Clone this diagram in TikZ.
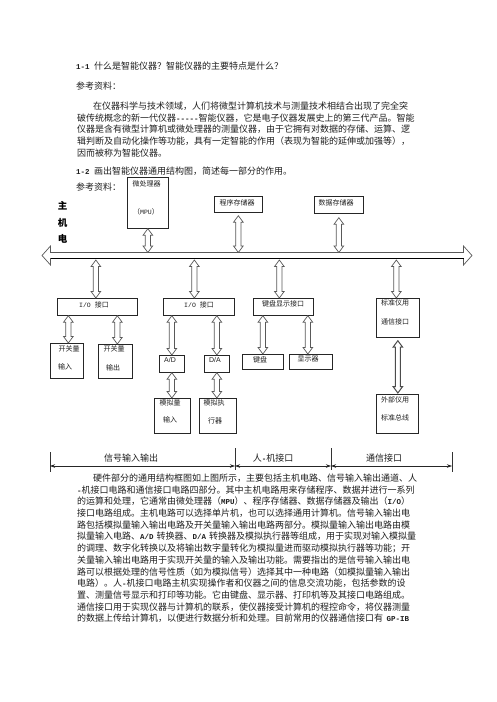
\documentclass[tikz,border=0pt]{standalone}
\usepackage{fontspec}
\setmainfont{Noto Sans CJK SC}
\newfontfamily\hwfont{Liberation Mono}
\newfontfamily\arfont{Liberation Sans}
\usetikzlibrary{arrows.meta,calc}
\definecolor{txt}{gray}{0.12}
\definecolor{argray}{gray}{0.35}
\newcommand\hw[1]{{\hwfont\bfseries\fontsize{7.5}{9}\selectfont #1}}
\newcommand\hws[1]{{\hwfont\fontsize{6.5}{8}\selectfont #1}}
\newcommand\jl[2]{\hbox to #1{\XeTeXlinebreaklocale "zh"\XeTeXlinebreakskip=0pt plus 2pt minus 0.3pt\relax #2}}
\newcommand\bx[5]{\node[box, minimum width={(#4-#2)*1pt}, minimum height={(#5-#3)*1pt}] (#1) at (#2,#3) {};}
\newcommand\vdbl[3][]{\draw[dblar,#1] let \p1=(#2), \p2=(#3) in
  (\x1,\y1) -- (\x1+4.8pt,\y1-6.5pt) -- (\x1+2.6pt,\y1-6.5pt) -- (\x1+2.6pt,\y2+6.5pt) -- (\x1+4.8pt,\y2+6.5pt)
  -- (\x1,\y2) -- (\x1-4.8pt,\y2+6.5pt) -- (\x1-2.6pt,\y2+6.5pt) -- (\x1-2.6pt,\y1-6.5pt) -- (\x1-4.8pt,\y1-6.5pt) -- cycle;}
\tikzset{
  tl/.style={anchor=west, inner sep=0pt, font=\fontsize{9}{11}\selectfont, text=txt},
  box/.style={draw=black!85, line width=0.7pt, inner sep=0pt, anchor=north west},
  bl/.style={inner sep=0pt, font=\fontsize{7}{8}\selectfont, text=txt},
  dl/.style={inner sep=0pt, font=\fontsize{9}{11}\selectfont, text=txt},
  bigch/.style={inner sep=0pt, font=\fontsize{9.5}{11}\selectfont\bfseries, text=black},
  dblar/.style={draw=argray, fill=white, line width=0.7pt, line join=miter},
  dimar/.style={{Stealth[length=5pt,width=3.5pt]}-{Stealth[length=5pt,width=3.5pt]}, line width=0.7pt, draw=black!85},
  tick/.style={line width=0.8pt, draw=black!80},
}
\begin{document}
\begin{tikzpicture}[x=1pt,y=-1pt]
\fill[white] (0,0) rectangle (496,702);
\useasboundingbox (0,0) rectangle (496,702);

% ---- top text ----
\node[tl] (l1) at (76,66) {\hw{1-1 }什么是智能仪器？智能仪器的主要特点是什么？};
\node[tl] (l2) at (76,86) {参考资料：};
\node[tl] (l3) at (93,106) {\jl{316pt}{在仪器科学与技术领域，人们将微型计算机技术与测量技术相结合出现了完全突}};
\node[tl] (l4) at (77,117.7) {\jl{332pt}{破传统概念的新一代仪器\hw{-----}智能仪器，它是电子仪器发展史上的第三代产品。智能}};
\node[tl] (l5) at (77,129.4) {\jl{332pt}{仪器是含有微型计算机或微处理器的测量仪器，由于它拥有对数据的存储、运算、逻}};
\node[tl] (l6) at (77,141.1) {\jl{332pt}{辑判断及自动化操作等功能，具有一定智能的作用（表现为智能的延伸或加强等），}};
\node[tl] (l7) at (77,152.8) {因而被称为智能仪器。};
\node[tl] (l8) at (76,171) {\hw{1-2 }画出智能仪器通用结构图，简述每一部分的作用。};
\node[tl] (l9) at (76,187) {参考资料：};

\node[bigch] (c1) at (62.5,206) {主};
\node[bigch] (c2) at (62.5,223) {机};
\node[bigch] (c3) at (62.5,239) {电};

% ---- boxes ----
\bx{mpu}{127}{177}{168}{228}
\bx{prog}{214}{196}{262}{212}
\bx{data}{314}{196}{363}{213}
\bx{io1}{57}{298}{137}{315}
\bx{io2}{163}{298}{234}{315}
\bx{kdi}{253}{298}{313}{315}
\bx{std}{376}{298}{419}{337}
\bx{swin}{50}{343}{83}{378}
\bx{swout}{98}{344}{132}{378}
\bx{ad}{159}{355}{184}{372}
\bx{da}{204}{355}{229}{372}
\bx{kb}{242}{354}{283}{369}
\bx{disp}{289}{354}{332}{369}
\bx{ain}{154}{398}{190}{433}
\bx{aact}{199}{398}{236}{433}
\bx{ext}{376}{394}{418}{433}

% ---- box labels ----
\node[bl] (b1) at (146.5,184) {微处理器};
\node[bl] (b2) at (146,212) {（\hws{MPU}）};
\node[bl] (b3) at (237,203) {程序存储器};
\node[bl] (b4) at (336,203) {数据存储器};
\node[bl] (b5) at (94,305) {\hws{I/O }接口};
\node[bl] (b6) at (199,305) {\hws{I/O }接口};
\node[bl] (b7) at (283,304) {键盘显示接口};
\node[bl] (b8) at (395,303) {标准仪用};
\node[bl] (b9) at (395,322) {通信接口};
\node[bl] (b10) at (69,349) {开关量};
\node[bl] (b11) at (65,367) {输入};
\node[bl] (b12) at (114,349) {开关量};
\node[bl] (b13) at (113,368) {输出};
\node[bl, font=\arfont\fontsize{7}{8}\selectfont] (b14) at (170,360) {A/D};
\node[bl, font=\arfont\fontsize{7}{8}\selectfont] (b15) at (215,360) {D/A};
\node[bl] (b16) at (260,360) {键盘};
\node[bl] (b17) at (308,359) {显示器};
\node[bl] (b18) at (170,403) {模拟量};
\node[bl] (b19) at (170,420) {输入};
\node[bl] (b20) at (214,403) {模拟执};
\node[bl] (b21) at (215,421) {行器};
\node[bl] (b22) at (395,400) {外部仪用};
\node[bl] (b23) at (395,418) {标准总线};

% ---- bus ----
\coordinate (busL) at (42,255.5);
\coordinate (busR) at (472,255.5);
\coordinate (bt) at (0,252.5);
\coordinate (bb) at (0,260);
\draw[dblar] (busL) -- ++(8.5,-9.5) -- ++(0,6.5) -- ($(busR)+(-8.5,-3)$) -- ++(0,-6.5) -- (busR)
  -- ++(-8.5,9.5) -- ++(0,-6.5) -- ($(busL)+(8.5,3)$) -- ++(0,6.5) -- cycle;
\draw[line width=1.1pt, black] ($(busL)+(8.5,3)$) -- ($(busR)+(-8.5,3)$);

% ---- vertical double arrows ----
\vdbl{mpu.south}{mpu.south |- bt}
\vdbl{$(prog.south)+(0,3)$}{prog.south |- bt}
\vdbl{$(data.south)+(0,4)$}{data.south |- bt}
\vdbl{$(io1.north |- bb)+(-1.5,0)$}{$(io1.north)+(-1.5,0)$}
\vdbl{$(io2.north |- bb)+(-4.5,0)$}{$(io2.north)+(-4.5,0)$}
\vdbl{$(kdi.north |- bb)+(-4,0)$}{$(kdi.north)+(-4,0)$}
\vdbl{$(std.north |- bb)+(-1.5,0)$}{$(std.north)+(-1.5,0)$}
\vdbl{$(swin.north |- io1.south)+(1.5,0)$}{$(swin.north)+(1.5,0)$}
\vdbl{$(swout.north |- io1.south)+(2,0)$}{$(swout.north)+(2,0)$}
\vdbl{ad.north |- io2.south}{ad.north}
\vdbl{da.north |- io2.south}{da.north}
\vdbl{kb.north |- kdi.south}{kb.north}
\vdbl{$(disp.north |- kdi.south)+(-3,0)$}{$(disp.north)+(-3,0)$}
\vdbl{ad.south}{ad.south |- ain.north}
\vdbl{da.south}{da.south |- aact.north}
\vdbl[line width=1pt, draw=black!70]{$(std.south)+(0,3)$}{$(std.south |- ext.north)+(0,-1)$}

% ---- dimension line ----
\coordinate (t0) at (50,466);
\coordinate (t1) at (235,466);
\coordinate (t2) at (331,466);
\coordinate (t3) at (452,466);
\draw[tick] ($(t0)+(0,-14)$) -- ($(t0)+(0,6)$);
\draw[tick] ($(t1)+(0,-18)$) -- ($(t1)+(0,4)$);
\draw[tick] ($(t2)+(0,-18)$) -- ($(t2)+(0,4)$);
\draw[tick] ($(t3)+(0,-14)$) -- ($(t3)+(0,6)$);
\draw[dimar] (t0) -- (t1);
\draw[dimar] (t1) -- (t2);
\draw[dimar] (t2) -- (t3);
\node[dl] (d1) at (131,458) {信号输入输出};
\node[dl] (d2) at (273,458) {人\hw{-}机接口};
\node[dl] (d3) at (384,458) {通信接口};

% ---- bottom text ----
\node[tl] (p1) at (93,478) {\jl{316pt}{硬件部分的通用结构框图如上图所示，主要包括主机电路、信号输入输出通道、人}};
\node[tl] (p2) at (77,489.7) {\jl{332pt}{\hw{-}机接口电路和通信接口电路四部分。其中主机电路用来存储程序、数据并进行一系列}};
\node[tl] (p3) at (77,501.4) {\jl{332pt}{的运算和处理，它通常由微处理器（\hw{MPU}）、程序存储器、数据存储器及输出（\hw{I/O}）}};
\node[tl] (p4) at (77,513.1) {\jl{332pt}{接口电路组成。主机电路可以选择单片机，也可以选择通用计算机。信号输入输出电}};
\node[tl] (p5) at (77,524.8) {\jl{332pt}{路包括模拟量输入输出电路及开关量输入输出电路两部分。模拟量输入输出电路由模}};
\node[tl] (p6) at (77,536.5) {\jl{332pt}{拟量输入电路、\hw{A/D }转换器、\hw{D/A }转换器及模拟执行器等组成，用于实现对输入模拟量}};
\node[tl] (p7) at (77,548.2) {\jl{332pt}{的调理、数字化转换以及将输出数字量转化为模拟量进而驱动模拟执行器等功能；开}};
\node[tl] (p8) at (77,559.9) {\jl{332pt}{关量输入输出电路用于实现开关量的输入及输出功能。需要指出的是信号输入输出电}};
\node[tl] (p9) at (77,571.6) {\jl{332pt}{路可以根据处理的信号性质（如为模拟信号）选择其中一种电路（如模拟量输入输出}};
\node[tl] (p10) at (77,583.3) {\jl{332pt}{电路）。人\hw{-}机接口电路主机实现操作者和仪器之间的信息交流功能，包括参数的设}};
\node[tl] (p11) at (77,595) {\jl{332pt}{置、测量信号显示和打印等功能。它由键盘、显示器、打印机等及其接口电路组成。}};
\node[tl] (p12) at (77,606.7) {\jl{332pt}{通信接口用于实现仪器与计算机的联系，使仪器接受计算机的程控命令，将仪器测量}};
\node[tl] (p13) at (77,618.4) {\jl{332pt}{的数据上传给计算机，以便进行数据分析和处理。目前常用的仪器通信接口有 \hw{GP-IB}}};
\end{tikzpicture}
\end{document}
